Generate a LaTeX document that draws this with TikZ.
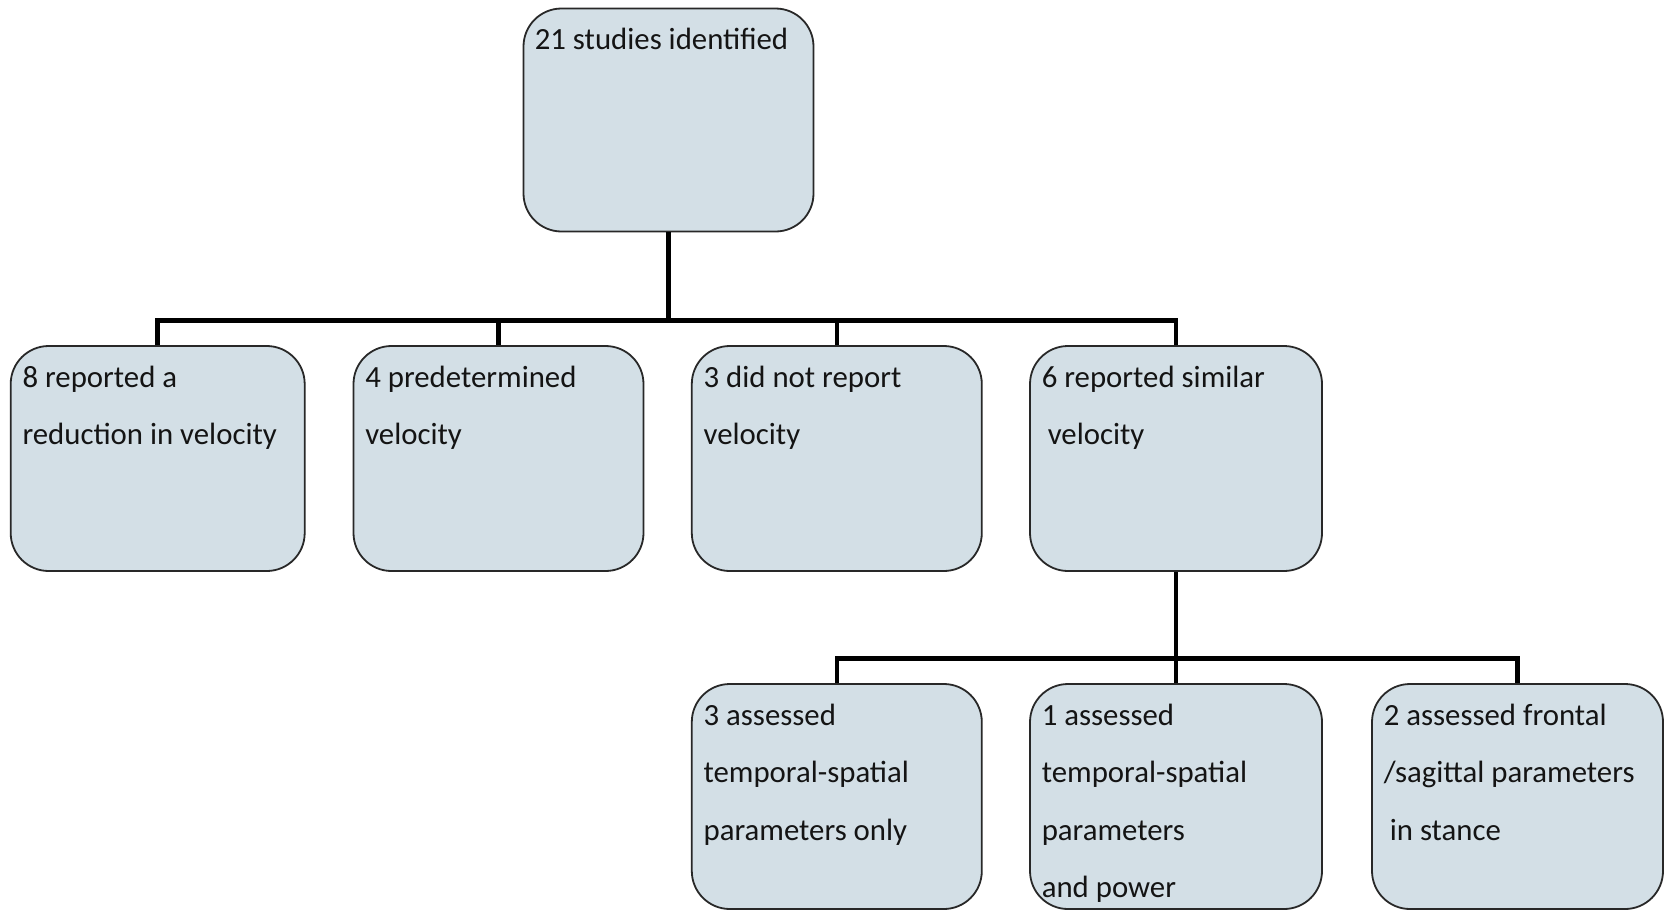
\documentclass[tikz,border=0pt]{standalone}
\usepackage{fontspec}
\setmainfont{Carlito}
\definecolor{boxfill}{RGB}{211,223,230}
\definecolor{boxdraw}{RGB}{40,40,40}
\begin{document}
\begin{tikzpicture}[x=1pt,y=-1pt,
  box/.style={draw=boxdraw, line width=1.8pt, fill=boxfill, rounded corners=38pt,
    minimum width=290pt, minimum height=225pt, inner sep=0pt},
  txt/.style={anchor=north west, inner sep=0pt, align=left,
    font=\fontsize{30.8pt}{57.5pt}\selectfont, text=black!92},
  conn/.style={line width=4.5pt, draw=black}]
\useasboundingbox (0,0) rectangle (1665,911);
% boxes
\node[box, minimum height=223pt] (b0) at (668.5,120) {};
\node[box, minimum width=294pt] (b1) at (157.7,458.5) {};
\node[box] (b2) at (498.5,458.5) {};
\node[box] (b3) at (836.8,458.5) {};
\node[box, minimum width=292pt] (b4) at (1176,458.5) {};
\node[box] (b5) at (836.8,796.5) {};
\node[box, minimum width=292pt] (b6) at (1176,796.5) {};
\node[box, minimum width=291pt] (b7) at (1517.5,796.5) {};
% texts
\node[txt] (t0) at ([xshift=12pt,yshift=-1.75pt]b0.north west) {\strut 21 studies identified};
\node[txt] (t1) at ([xshift=12.5pt,yshift=-1.75pt]b1.north west) {\strut 8 reported a\\reduction in velocity};
\node[txt] (t2) at ([xshift=12.5pt,yshift=-1.75pt]b2.north west) {\strut 4 predetermined\\velocity};
\node[txt] (t3) at ([xshift=12.5pt,yshift=-1.75pt]b3.north west) {\strut 3 did not report\\velocity};
\node[txt] (t4) at ([xshift=12.5pt,yshift=-1.75pt]b4.north west) {\strut 6 reported similar\\\hspace{6pt}velocity};
\node[txt] (t5) at ([xshift=12.5pt,yshift=-1.75pt]b5.north west) {\strut 3 assessed\\temporal-spatial\\parameters only};
\node[txt] (t6) at ([xshift=12.5pt,yshift=-1.75pt]b6.north west) {\strut 1 assessed\\temporal-spatial\\parameters\\and power};
\node[txt] (t7) at ([xshift=12.5pt,yshift=-1.75pt]b7.north west) {\strut 2 assessed frontal\\/sagittal parameters\\\hspace{6pt}in stance};
% connectors
\coordinate (j1) at (668.5,320.7);
\coordinate (j2) at (1176,658.4);
\draw[conn] (b0.south) -- (j1);
\draw[conn] (b1.north) -- (b1.north |- j1) -- (b4.north |- j1) -- (b4.north);
\draw[conn] (b2.north) -- (b2.north |- j1);
\draw[conn] (b3.north) -- (b3.north |- j1);
\draw[conn] (b4.south) -- (j2);
\draw[conn] (b5.north) -- (b5.north |- j2) -- (b7.north |- j2) -- (b7.north);
\draw[conn] (b6.north) -- (b6.north |- j2);
\end{tikzpicture}
\end{document}
